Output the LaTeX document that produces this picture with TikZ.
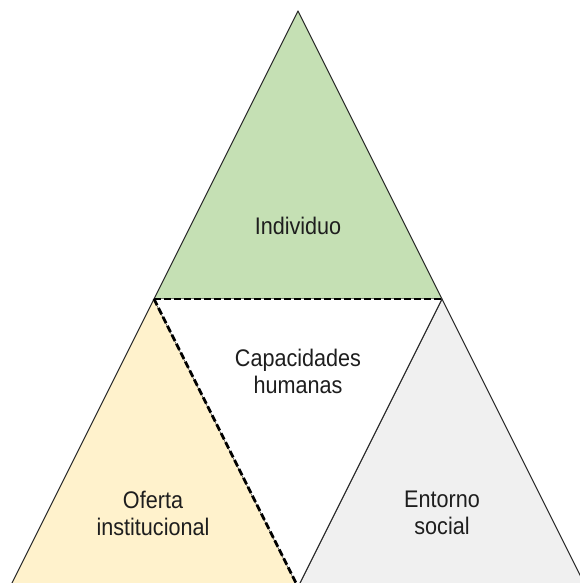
\documentclass[tikz,border=0pt]{standalone}
\usepackage{fontspec}
\setmainfont{Liberation Sans}
\definecolor{greenfill}{HTML}{C5E0B4}
\definecolor{yellowfill}{HTML}{FFF2CC}
\definecolor{grayfill}{HTML}{F0F0F0}
\definecolor{edgecol}{HTML}{262626}
\definecolor{txtcol}{HTML}{1E1E1E}
\tikzset{
  tri/.style={draw=edgecol, line width=1pt, line join=round},
  dashedge/.style={draw=black, line width=2.8pt, dash pattern=on 7pt off 3pt},
  lbl/.style={inner sep=0pt, align=center, text=txtcol, transform shape, xscale=0.9,
    font=\fontsize{24}{27}\selectfont}
}
\begin{document}
\begin{tikzpicture}[x=1pt,y=1pt]
\useasboundingbox (0,0) rectangle (580,583);
\clip (0,0) rectangle (580,583);
% vertices
\coordinate (A) at (298,572);
\coordinate (L) at (154,284);
\coordinate (R) at (442,284);
\coordinate (B) at (298,-4);
\coordinate (BL) at (10,-4);
\coordinate (BR) at (586,-4);
% triangles
\filldraw[tri, fill=greenfill] (A) -- (L) -- (R) -- cycle;
\filldraw[tri, fill=yellowfill] (L) -- (BL) -- (B) -- cycle;
\filldraw[tri, fill=grayfill] (R) -- (B) -- (BR) -- cycle;
\fill[white] (L) -- (R) -- (B) -- cycle;
\draw[tri] (R) -- (B);
% dashed edges
\draw[dashedge] (L) -- (R);
\draw[dashedge] (L) -- (B);
% labels
\node[lbl, anchor=base] (ind) at (298,348) {Individuo};
\node[lbl] (cap) at (298,212) {Capacidades\\humanas};
\node[lbl] (ofe) at (153,70) {Oferta\\institucional};
\node[lbl] (ent) at (442,70) {Entorno\\social};
\end{tikzpicture}
\end{document}
